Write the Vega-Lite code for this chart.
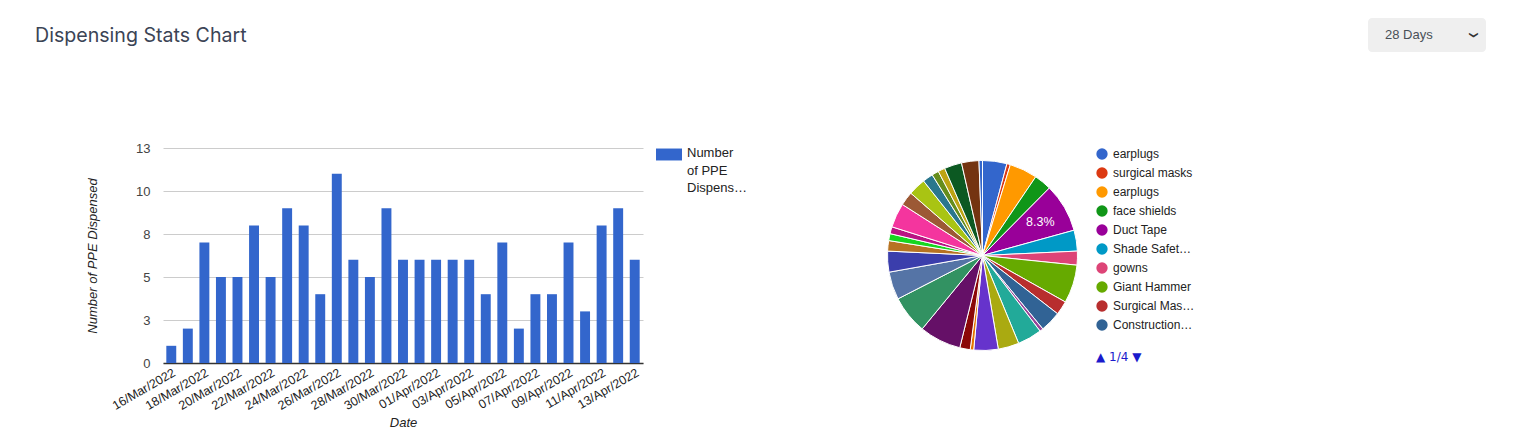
{
  "$schema": "https://vega.github.io/schema/vega-lite/v6.json",
  "background": "white",
  "padding": {"left": 35, "top": 18, "right": 5, "bottom": 5},
  "config": {
    "view": {"stroke": null},
    "font": "Liberation Sans"
  },
  "columns": 3,
  "align": "none",
  "bounds": "flush",
  "spacing": {"row": 96, "column": 232},
  "resolve": {"scale": {"color": "independent"}, "legend": {"color": "independent"}},
  "concat": [
    {
      "width": 480,
      "height": 34,
      "data": {"values": [{"t": ""}]},
      "mark": {"type": "text"},
      "encoding": {"text": {"field": "t"}},
      "title": {
        "text": "Dispensing Stats Chart",
        "anchor": "start",
        "frame": "group",
        "dx": -128,
        "offset": -29,
        "fontSize": 19.6,
        "font": "Inter",
        "fontWeight": "normal",
        "color": "#3b4455"
      }
    },
    {
      "width": 261,
      "height": 34,
      "data": {"values": [{"t": ""}]},
      "mark": {"type": "text"},
      "encoding": {"text": {"field": "t"}}
    },
    {
      "width": 118,
      "height": 34,
      "view": {"fill": "#efefef", "stroke": null, "cornerRadius": 4},
      "data": {"values": [{"label": "28 Days"}]},
      "layer": [
        {
          "mark": {"type": "text", "align": "left", "dx": -42, "fontSize": 13, "color": "#495057"},
          "encoding": {"text": {"field": "label"}}
        },
        {
          "mark": {"type": "text", "text": "❯", "angle": 90, "dx": 0, "dy": -47, "fontSize": 9, "color": "#333", "font": "DejaVu Sans"},
          "encoding": {}
        }
      ]
    },
    {
      "width": 480,
      "height": 215,
      "data": {
        "values": [
          {"date": "16/Mar/2022", "count": 1},
          {"date": "17/Mar/2022", "count": 2},
          {"date": "18/Mar/2022", "count": 7},
          {"date": "19/Mar/2022", "count": 5},
          {"date": "20/Mar/2022", "count": 5},
          {"date": "21/Mar/2022", "count": 8},
          {"date": "22/Mar/2022", "count": 5},
          {"date": "23/Mar/2022", "count": 9},
          {"date": "24/Mar/2022", "count": 8},
          {"date": "25/Mar/2022", "count": 4},
          {"date": "26/Mar/2022", "count": 11},
          {"date": "27/Mar/2022", "count": 6},
          {"date": "28/Mar/2022", "count": 5},
          {"date": "29/Mar/2022", "count": 9},
          {"date": "30/Mar/2022", "count": 6},
          {"date": "31/Mar/2022", "count": 6},
          {"date": "01/Apr/2022", "count": 6},
          {"date": "02/Apr/2022", "count": 6},
          {"date": "03/Apr/2022", "count": 6},
          {"date": "04/Apr/2022", "count": 4},
          {"date": "05/Apr/2022", "count": 7},
          {"date": "06/Apr/2022", "count": 2},
          {"date": "07/Apr/2022", "count": 4},
          {"date": "08/Apr/2022", "count": 4},
          {"date": "09/Apr/2022", "count": 7},
          {"date": "10/Apr/2022", "count": 3},
          {"date": "11/Apr/2022", "count": 8},
          {"date": "12/Apr/2022", "count": 9},
          {"date": "13/Apr/2022", "count": 6}
        ]
      },
      "mark": {"type": "bar"},
      "encoding": {
        "x": {
          "field": "date",
          "type": "ordinal",
          "sort": null,
          "title": "Date",
          "scale": {"paddingInner": 0.4, "paddingOuter": 0.2},
          "axis": {
            "values": ["16/Mar/2022", "18/Mar/2022", "20/Mar/2022", "22/Mar/2022", "24/Mar/2022", "26/Mar/2022", "28/Mar/2022", "30/Mar/2022", "01/Apr/2022", "03/Apr/2022", "05/Apr/2022", "07/Apr/2022", "09/Apr/2022", "11/Apr/2022", "13/Apr/2022"],
            "labelAngle": -30,
            "labelFontSize": 12.5,
            "labelColor": "#222",
            "labelPadding": 3,
            "labelOverlap": false,
            "ticks": false,
            "domain": true,
            "domainColor": "#333",
            "domainWidth": 1.5,
            "grid": false,
            "titleFontStyle": "italic",
            "titleFontWeight": "normal",
            "titleFontSize": 13,
            "titleColor": "#222",
            "titlePadding": 5
          }
        },
        "y": {
          "field": "count",
          "type": "quantitative",
          "title": "Number of PPE Dispensed",
          "scale": {"domain": [0, 12.5], "nice": false},
          "axis": {
            "values": [0, 2.5, 5, 7.5, 10, 12.5],
            "labelExpr": "'' + round(datum.value)",
            "grid": true,
            "gridColor": "#cccccc",
            "domain": false,
            "ticks": false,
            "labelPadding": 13,
            "labelFontSize": 13,
            "labelColor": "#444",
            "titleFontStyle": "italic",
            "titleFontWeight": "normal",
            "titleFontSize": 13,
            "titleColor": "#222",
            "titlePadding": 36
          }
        },
        "color": {
          "datum": "Number of PPE Dispensed",
          "type": "nominal",
          "scale": {"range": ["#3366cc"]},
          "legend": {
            "orient": "right",
            "offset": 13,
            "padding": 0,
            "title": null,
            "symbolType": "M-1,-0.96H1V-0.04H-1Z",
            "symbolSize": 676,
            "symbolStrokeWidth": 0,
            "labelFontSize": 13,
            "labelColor": "#222",
            "labelOffset": 5,
            "labelLimit": 60,
            "labelBaseline": "top",
            "labelExpr": "[slice(datum.label, 0, 6), slice(datum.label, 7, 13), slice(datum.label, 14)]",
            "encode": {
              "labels": {"update": {"lineHeight": {"value": 17.5}, "dy": {"value": -14}}}
            }
          }
        }
      }
    },
    {
      "width": 215,
      "height": 215,
      "data": {
        "values": [
          {"idx": 1, "item": "01 earplugs", "count": 7},
          {"idx": 2, "item": "02 surgical masks", "count": 1},
          {"idx": 3, "item": "03 earplugs", "count": 8},
          {"idx": 4, "item": "04 face shields", "count": 5},
          {"idx": 5, "item": "05 Duct Tape", "count": 14},
          {"idx": 6, "item": "06 Shade Safety Glasses", "count": 6},
          {"idx": 7, "item": "07 gowns", "count": 4},
          {"idx": 8, "item": "08 Giant Hammer", "count": 11},
          {"idx": 9, "item": "09 Surgical Mask N95", "count": 4},
          {"idx": 10, "item": "10 Construction Helmet", "count": 6},
          {"idx": 11, "item": "11 gloves", "count": 1},
          {"idx": 12, "item": "12 hard hats", "count": 7},
          {"idx": 13, "item": "13 safety vests", "count": 6},
          {"idx": 14, "item": "14 respirators", "count": 7},
          {"idx": 15, "item": "15 hand sanitizer", "count": 1},
          {"idx": 16, "item": "16 shoe covers", "count": 3},
          {"idx": 17, "item": "17 coveralls", "count": 12},
          {"idx": 18, "item": "18 safety goggles", "count": 11},
          {"idx": 19, "item": "19 face masks", "count": 8},
          {"idx": 20, "item": "20 ear muffs", "count": 6},
          {"idx": 21, "item": "21 hair nets", "count": 3},
          {"idx": 22, "item": "22 aprons", "count": 2},
          {"idx": 23, "item": "23 nitrile gloves", "count": 2},
          {"idx": 24, "item": "24 isolation gowns", "count": 7},
          {"idx": 25, "item": "25 knee pads", "count": 4},
          {"idx": 26, "item": "26 work boots", "count": 5},
          {"idx": 27, "item": "27 welding gloves", "count": 3},
          {"idx": 28, "item": "28 hi-vis jackets", "count": 2},
          {"idx": 29, "item": "29 dust masks", "count": 2},
          {"idx": 30, "item": "30 lab coats", "count": 5},
          {"idx": 31, "item": "31 safety harness", "count": 5},
          {"idx": 32, "item": "32 bump caps", "count": 1}
        ]
      },
      "layer": [
        {
          "mark": {"type": "arc", "outerRadius": 95, "stroke": "white", "strokeWidth": 1},
          "encoding": {
            "theta": {"field": "count", "type": "quantitative", "stack": true},
            "order": {"field": "idx", "type": "quantitative"},
            "color": {
              "field": "item",
              "type": "nominal",
              "scale": {
                "range": ["#3366cc", "#dc3912", "#ff9900", "#109618", "#990099", "#0099c6", "#dd4477", "#66aa00", "#b82e2e", "#316395", "#994499", "#22aa99", "#aaaa11", "#6633cc", "#e67300", "#8b0707", "#651067", "#329262", "#5574a6", "#3b3eac", "#b77322", "#16d620", "#b91383", "#f4359e", "#9c5935", "#a9c413", "#2a778d", "#668d1c", "#bea413", "#0c5922", "#743411", "#3366cc"]
              },
              "legend": {
                "orient": "right",
                "offset": 6,
                "padding": 0,
                "values": ["01 earplugs", "02 surgical masks", "03 earplugs", "04 face shields", "05 Duct Tape", "06 Shade Safety Glasses", "07 gowns", "08 Giant Hammer", "09 Surgical Mask N95", "10 Construction Helmet"],
                "labelExpr": "slice(datum.label, 3)",
                "title": "▲ 1/4 ▼",
                "titleOrient": "bottom",
                "titleFont": "DejaVu Sans",
                "titleFontSize": 12,
                "titleFontWeight": "normal",
                "titleColor": "#1a1acc",
                "titlePadding": 21,
                "symbolType": "circle",
                "symbolSize": 128,
                "symbolStrokeWidth": 0,
                "symbolOpacity": 1,
                "labelFontSize": 12,
                "labelColor": "#222",
                "labelOffset": 5,
                "labelLimit": 82,
                "rowPadding": 7
              }
            }
          }
        },
        {
          "mark": {"type": "text", "radius": 67, "fill": "white", "fontSize": 12.5},
          "encoding": {
            "theta": {"field": "count", "type": "quantitative", "stack": true},
            "order": {"field": "idx", "type": "quantitative"},
            "detail": {"field": "item", "type": "nominal"},
            "text": {"condition": {"test": "datum.idx == 5", "value": "8.3%"}, "value": ""}
          }
        }
      ]
    }
  ]
}
